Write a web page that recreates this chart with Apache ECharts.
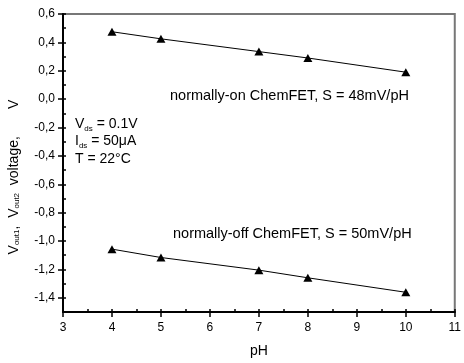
<!DOCTYPE html>
<html><head><meta charset="utf-8">
<script src="https://cdn.jsdelivr.net/npm/echarts@6/dist/echarts.min.js"></script>
<style>html,body{margin:0;padding:0;background:#fff}#c{width:464px;height:363px}</style>
</head><body><div id="c"></div>
<script>
const pH = [4, 5, 7, 8, 10];
const vOut1 = [0.475, 0.425, 0.335, 0.29, 0.19];
const vOut2 = [-1.057, -1.116, -1.205, -1.259, -1.361];
const yTicks = [-1.4, -1.2, -1.0, -0.8, -0.6, -0.4, -0.2, 0.0, 0.2, 0.4, 0.6];
const xTicks = [3, 4, 5, 6, 7, 8, 9, 10, 11];
const labelOn = 'normally-on ChemFET, S = 48mV/pH';
const labelOff = 'normally-off ChemFET, S = 50mV/pH';

const FONT = "'Liberation Sans', Arial, sans-serif";
const chart = echarts.init(document.getElementById('c'));
const sub = {fontSize: 8, fontFamily: FONT, color: '#000', verticalAlign: 'bottom', padding: [6, 0, 0, 0]};
chart.setOption({
  animation: false,
  grid: {left: 63, right: 3, top: 14, bottom: 49, show: true, borderColor: '#777', borderWidth: 2, backgroundColor: 'transparent'},
  xAxis: [{
    type: 'value', min: 3, max: 11, interval: 1,
    axisLine: {show: true, onZero: false, lineStyle: {color: '#000', width: 2}},
    axisTick: {show: true, length: 5, inside: false, lineStyle: {color: '#000', width: 1.5}},
    axisLabel: {fontSize: 12, fontFamily: FONT, color: '#000', margin: 10, customValues: xTicks},
    splitLine: {show: false},
    name: 'pH', nameLocation: 'middle', nameGap: 32,
    nameTextStyle: {fontSize: 14, fontFamily: FONT, color: '#000'}
  }, {
    type: 'value', min: 3, max: 11, interval: 0.5, position: 'bottom',
    axisLine: {show: false, onZero: false}, axisLabel: {show: false}, splitLine: {show: false},
    axisTick: {show: true, inside: true, length: 3, lineStyle: {color: '#000', width: 1.5}}
  }],
  yAxis: [{
    type: 'value', min: -1.5, max: 0.6, interval: 0.1,
    axisLine: {show: true, onZero: false, lineStyle: {color: '#000', width: 2}},
    axisTick: {show: true, length: 5, inside: false, customValues: yTicks, lineStyle: {color: '#000', width: 1.5}},
    axisLabel: {fontSize: 12, fontFamily: FONT, color: '#000', margin: 8, customValues: yTicks,
      formatter: v => v.toFixed(1).replace('.', ',')},
    splitLine: {show: false}
  }, {
    type: 'value', min: -1.5, max: 0.6, interval: 0.1, position: 'left',
    axisLine: {show: false, onZero: false}, axisLabel: {show: false}, splitLine: {show: false},
    axisTick: {show: true, inside: true, length: 3, lineStyle: {color: '#000', width: 1.5}}
  }],
  series: [{
    type: 'line', data: pH.map((x, i) => [x, vOut1[i]]),
    symbol: 'triangle', symbolSize: [9, 8], itemStyle: {color: '#000'},
    lineStyle: {color: '#000', width: 1}
  }, {
    type: 'line', data: pH.map((x, i) => [x, vOut2[i]]),
    symbol: 'triangle', symbolSize: [9, 8], itemStyle: {color: '#000'},
    lineStyle: {color: '#000', width: 1}
  }],
  graphic: [
    {type: 'text', left: 170, top: 88, style: {text: labelOn, font: '14.5px ' + FONT, fill: '#000'}},
    {type: 'text', left: 173, top: 226, style: {text: labelOff, font: '14.5px ' + FONT, fill: '#000'}},
    {type: 'text', left: 75, top: 115, style: {
      text: 'V{s|ds} = 0.1V\nI{s|ds} = 50μA\nT = 22°C', font: '14px ' + FONT, fill: '#000', lineHeight: 17.5,
      rich: {s: sub}}},
    {type: 'text', x: 14, y: 177, rotation: Math.PI / 2, style: {
      text: 'V{s|out1},  V{s|out2}  voltage,       V', font: '14px ' + FONT, fill: '#000',
      align: 'center', verticalAlign: 'middle', rich: {s: sub}}}
  ]
});
</script></body></html>
